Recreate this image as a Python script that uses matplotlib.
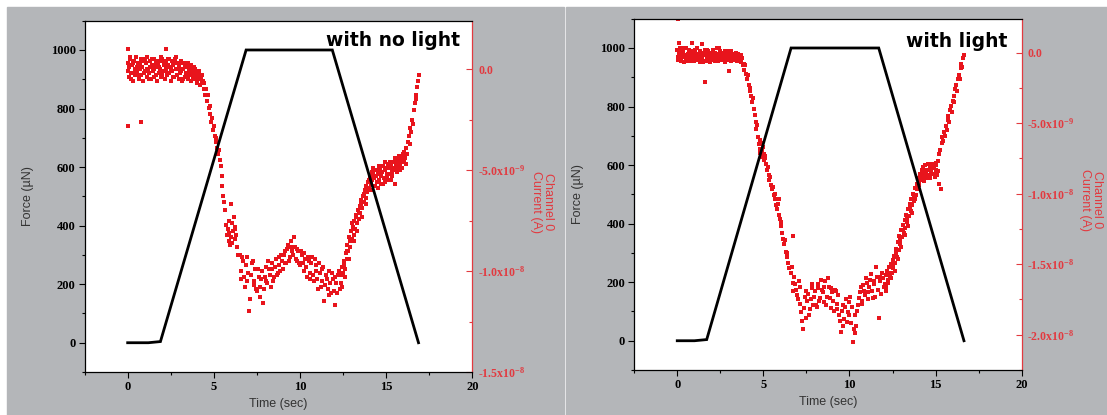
import numpy as np
import matplotlib
matplotlib.use("Agg")
import matplotlib.pyplot as plt
from matplotlib.patches import Rectangle
from matplotlib.ticker import MultipleLocator

plt.rcParams['mathtext.fontset'] = 'custom'
plt.rcParams['mathtext.rm'] = 'Liberation Serif:bold'
plt.rcParams['mathtext.default'] = 'rm'

# force ramp (uN) vs time (s)
dark_force_t = [0.0, 1.2, 1.9, 6.87, 11.87, 16.87]
dark_force = [0, 0, 4, 1000, 1000, 0]
light_force_t = [0.0, 1.0, 1.71, 6.61, 11.7, 16.65]
light_force = [0, 0, 4, 1000, 1000, 0]

# channel 0 current, "with no light" panel (time s, current nA)
dark_t = [
    0.00, 0.05, 0.10, 0.15, 0.20, 0.25, 0.30, 0.35, 0.40, 0.45,
    0.50, 0.55, 0.60, 0.65, 0.70, 0.75, 0.80, 0.85, 0.90, 0.95,
    1.00, 1.05, 1.10, 1.15, 1.20, 1.25, 1.30, 1.35, 1.40, 1.45,
    1.50, 1.55, 1.60, 1.65, 1.70, 1.75, 1.80, 1.85, 1.90, 1.95,
    2.00, 2.05, 2.10, 2.15, 2.20, 2.25, 2.30, 2.35, 2.40, 2.45,
    2.50, 2.55, 2.60, 2.65, 2.70, 2.75, 2.80, 2.85, 2.90, 2.95,
    3.00, 3.05, 3.10, 3.15, 3.20, 3.25, 3.30, 3.35, 3.40, 3.45,
    3.50, 3.55, 3.60, 3.65, 3.70, 3.75, 3.80, 3.85, 3.90, 3.95,
    4.00, 4.05, 4.10, 4.15, 4.20, 4.25, 4.30,
    0.02, 0.12, 0.22, 0.32, 0.42, 0.52, 0.62, 0.72, 0.82, 0.92,
    1.02, 1.12, 1.22, 1.32, 1.42, 1.52, 1.62, 1.72, 1.82, 1.92,
    2.02, 2.12, 2.22, 2.32, 2.42, 2.52, 2.62, 2.72, 2.82, 2.92,
    3.02, 3.12, 3.22, 3.32, 3.42, 3.52, 3.62, 3.72, 3.82, 3.92,
    4.02, 4.12, 4.22, 4.32,
    0.00, 0.03, 0.80, 2.20,
    4.35, 4.40, 4.45, 4.50, 4.55, 4.60, 4.65, 4.70, 4.75, 4.80,
    4.85, 4.90, 4.95, 5.00, 5.05, 5.10, 5.15, 5.20, 5.25, 5.30,
    5.35, 5.40, 5.45, 5.50, 5.55, 5.60, 5.65, 5.70, 5.75, 5.80,
    5.85, 5.90, 5.95, 6.00, 6.00, 6.05, 6.10, 6.15, 6.20, 6.25,
    6.30, 6.35, 6.40, 5.90, 6.05, 6.20,
    6.5, 6.6, 6.7, 6.8, 6.9, 7.0, 7.1, 7.2, 7.3, 7.4,
    7.5, 7.6, 7.7, 7.8, 7.9, 8.0, 8.1, 8.2, 8.3, 8.4,
    8.5, 8.6, 8.7, 8.8, 8.9, 9.0, 9.1, 9.2, 9.3, 9.4,
    9.5, 9.6, 9.7, 9.8, 9.9, 10.0, 10.1, 10.2, 10.3, 10.4,
    10.5, 10.6, 10.7, 10.8, 10.9, 11.0, 11.1, 11.2, 11.3, 11.4,
    11.5, 11.6, 11.7, 11.8, 11.9, 12.0, 12.1, 12.2, 12.3,
    6.55, 6.65, 6.75, 6.85, 6.95, 7.05, 7.15, 7.25, 7.35, 7.45,
    7.55, 7.65, 7.75, 7.85, 7.95, 8.05, 8.15, 8.25, 8.35, 8.45,
    8.55, 8.65, 8.75, 8.85, 8.95, 9.05, 9.15, 9.25, 9.35, 9.45,
    9.55, 9.65, 9.75, 9.85, 9.95, 10.05, 10.15, 10.25, 10.35, 10.45,
    10.55, 10.65, 10.75, 10.85, 10.95, 11.05, 11.15, 11.25, 11.35, 11.45,
    11.55, 11.65, 11.75, 11.85, 11.95, 12.05, 12.15, 12.25,
    12.35, 12.40, 12.45, 12.50, 12.55, 12.60, 12.65, 12.70, 12.75, 12.80,
    12.85, 12.90, 12.95, 13.00, 13.05, 13.10, 13.15, 13.20, 13.25, 13.30,
    13.35, 13.40, 13.45, 13.50, 13.55, 13.60, 13.65, 13.70, 13.75, 13.80,
    13.85, 13.90, 13.95, 14.00, 14.05, 14.10, 14.15, 14.20, 14.25, 14.30,
    14.35, 14.40, 14.45, 14.50, 14.55, 14.60, 14.65, 14.70, 14.75, 14.80,
    14.85, 14.90, 14.95, 15.00, 15.05, 15.10, 15.15, 15.20, 15.25, 15.30,
    15.35, 15.40, 15.45, 15.50, 15.55, 15.60, 15.65, 15.70, 15.75, 15.80,
    15.85, 15.90, 15.95, 16.00, 16.05, 16.10, 16.15, 16.20, 16.25, 16.30,
    16.35, 16.40, 16.45, 16.50, 16.55, 16.60, 16.65, 16.70, 16.75, 16.80,
    16.85, 16.90,
    12.42, 12.52, 12.62, 12.72, 12.82, 12.92, 13.02, 13.12, 13.22, 13.32,
    13.42, 13.52, 13.62, 13.72, 13.82, 13.92, 14.02, 14.12, 14.22, 14.32,
    14.42, 14.52, 14.62, 14.72, 14.82, 14.92, 15.02, 15.12, 15.22, 15.32,
    15.42, 15.52, 15.62, 15.72, 15.82, 15.92, 16.02, 16.12,
]
dark_i = [
    0.3, -0.4, 0.1, 0.5, -0.2, 0.2, -0.6, 0.4, 0.0, -0.3,
    0.6, -0.1, 0.3, -0.5, 0.2, 0.5, -0.3, 0.1, -0.6, 0.4,
    -0.1, 0.3, -0.4, 0.6, 0.0, -0.2, 0.4, -0.5, 0.2, -0.1,
    0.5, -0.4, 0.1, 0.3, -0.6, 0.2, -0.2, 0.4, 0.0, -0.4,
    0.5, -0.1, 0.2, -0.5, 0.3, 0.0, -0.3, 0.5, -0.2, 0.1,
    -0.6, 0.4, -0.1, 0.2, -0.4, 0.5, 0.0, -0.3, 0.3, -0.5,
    0.1, -0.2, 0.4, -0.6, 0.0, 0.3, -0.4, 0.1, -0.2, 0.2,
    -0.5, 0.0, -0.3, 0.2, -0.6, -0.1, -0.4, 0.1, -0.5, -0.2,
    -0.7, -0.3, -0.5, -0.1, -0.8, -0.4, -0.7,
    -0.1, 0.6, -0.5, 0.3, -0.2, 0.1, -0.3, 0.0, 0.4, -0.2,
    0.5, 0.0, -0.5, 0.1, 0.5, 0.0, -0.3, 0.4, 0.1, 0.6,
    -0.3, 0.4, -0.1, 0.2, 0.5, 0.0, -0.4, 0.3, 0.6, 0.0,
    0.3, -0.1, -0.5, 0.2, -0.3, 0.3, -0.1, 0.1, -0.2, 0.0,
    -0.4, -0.2, -0.5, -0.3,
    1.0, -2.8, -2.6, 1.0,
    -0.6, -1.0, -0.7, -1.3, -1.0, -1.6, -1.3, -1.9, -2.2, -1.8,
    -2.6, -2.4, -3.0, -2.8, -3.3, -3.6, -3.4, -3.9, -4.2, -4.0,
    -4.5, -4.8, -5.3, -5.8, -6.3, -6.6, -7.0, -7.7, -8.2, -7.9,
    -8.5, -8.1, -8.7, -6.7, -8.3, -7.6, -8.0, -7.3, -8.4, -7.8,
    -8.2, -8.8, -9.2, -7.5, -8.6, -7.9,
    -9.2, -10.4, -9.5, -10.8, -9.3, -10.1, -11.4, -9.6, -10.7, -9.9,
    -11.0, -10.3, -11.3, -10.0, -10.9, -9.8, -10.6, -9.9, -10.8, -9.6,
    -10.3, -9.4, -10.1, -9.7, -9.2, -9.9, -9.0, -9.6, -8.7, -9.3,
    -8.5, -9.2, -8.8, -9.5, -9.0, -9.7, -9.2, -10.0, -9.4, -10.3,
    -9.5, -10.1, -9.3, -10.5, -9.7, -10.4, -9.6, -10.8, -9.9, -11.5,
    -10.2, -10.9, -10.0, -11.1, -10.4, -11.7, -10.6, -10.2, -10.9,
    -10.0, -9.3, -10.3, -9.7, -10.5, -12.0, -10.2, -9.5, -10.5, -10.9,
    -9.9, -10.8, -10.4, -11.6, -10.3, -10.5, -9.5, -10.2, -9.9, -10.5,
    -9.8, -10.2, -9.3, -10.0, -9.5, -9.2, -9.6, -8.9, -9.5, -8.8,
    -9.0, -8.3, -9.4, -8.9, -9.6, -9.0, -9.6, -9.1, -9.8, -9.3,
    -10.4, -9.6, -10.2, -9.4, -10.0, -10.9, -10.1, -10.5, -9.8, -10.7,
    -10.4, -11.2, -10.6, -10.1, -11.0, -10.3, -11.1, -10.0,
    -10.2, -10.6, -9.8, -10.1, -9.5, -9.9, -9.1, -9.4, -8.7, -9.0,
    -8.3, -8.8, -8.0, -8.4, -7.8, -8.2, -7.5, -7.9, -7.2, -7.6,
    -7.0, -7.4, -6.8, -7.1, -6.5, -6.9, -6.3, -6.6, -6.0, -6.4,
    -5.8, -6.1, -5.6, -5.9, -5.3, -5.7, -5.1, -5.5, -4.9, -5.4,
    -5.8, -5.0, -5.6, -5.2, -4.8, -5.5, -5.0, -5.7, -5.1, -4.8,
    -5.4, -5.0, -5.6, -4.9, -5.3, -4.7, -5.2, -4.9, -5.5, -4.8,
    -5.1, -4.6, -5.0, -5.7, -4.7, -5.1, -4.5, -4.9, -4.3, -4.7,
    -4.4, -4.9, -4.2, -4.6, -4.1, -4.4, -3.9, -4.2, -3.6, -3.3,
    -3.7, -2.9, -3.1, -2.5, -2.7, -2.0, -1.7, -1.3, -1.5, -0.9,
    -0.6, -0.3,
    -10.8, -9.7, -10.3, -9.0, -9.4, -8.5, -7.6, -8.5, -7.3, -8.0,
    -7.1, -6.7, -7.3, -6.2, -6.7, -5.9, -5.5, -6.0, -5.2, -5.0,
    -5.3, -5.9, -4.9, -5.3, -5.7, -4.6, -5.2, -5.5, -4.6, -5.3,
    -4.9, -4.4, -4.9, -4.6, -5.0, -4.5, -4.3, -4.7,
]

# channel 0 current, "with light" panel (time s, current nA)
light_t = [
    0.00, 0.05, 0.10, 0.15, 0.20, 0.25, 0.30, 0.35, 0.40, 0.45,
    0.50, 0.55, 0.60, 0.65, 0.70, 0.75, 0.80, 0.85, 0.90, 0.95,
    1.00, 1.05, 1.10, 1.15, 1.20, 1.25, 1.30, 1.35, 1.40, 1.45,
    1.50, 1.55, 1.60, 1.65, 1.70, 1.75, 1.80, 1.85, 1.90, 1.95,
    2.00, 2.05, 2.10, 2.15, 2.20, 2.25, 2.30, 2.35, 2.40, 2.45,
    2.50, 2.55, 2.60, 2.65, 2.70, 2.75, 2.80, 2.85, 2.90, 2.95,
    3.00, 3.05, 3.10, 3.15, 3.20, 3.25, 3.30, 3.35, 3.40, 3.45,
    3.50, 3.55, 3.60, 3.65, 3.70, 3.75, 3.80,
    0.02, 0.12, 0.22, 0.32, 0.42, 0.52, 0.62, 0.72, 0.82, 0.92,
    1.02, 1.12, 1.22, 1.32, 1.42, 1.52, 1.62, 1.72, 1.82, 1.92,
    2.02, 2.12, 2.22, 2.32, 2.42, 2.52, 2.62, 2.72, 2.82, 2.92,
    3.02, 3.12, 3.22, 3.32, 3.42, 3.52, 3.62, 3.72,
    0.02, 1.60, 3.00, 0.10, 0.85, 1.45,
    3.85, 3.90, 3.95, 4.00, 4.05, 4.10, 4.15, 4.20, 4.25, 4.30,
    4.35, 4.40, 4.45, 4.50, 4.55, 4.60, 4.65, 4.70, 4.75, 4.80,
    4.85, 4.90, 4.95, 5.00, 5.05, 5.10, 5.15, 5.20, 5.25, 5.30,
    5.35, 5.40, 5.45, 5.50, 5.55, 5.60, 5.65, 5.70, 5.75, 5.80,
    5.85, 5.90, 5.95, 6.00, 6.05, 6.10, 6.15, 6.20, 6.25, 6.30,
    6.35, 6.40, 6.45, 6.50,
    4.78, 4.82, 4.88, 4.92, 5.02, 5.08, 6.70, 5.90,
    6.6, 6.7, 6.8, 6.9, 7.0, 7.1, 7.2, 7.3, 7.4, 7.5,
    7.6, 7.7, 7.8, 7.9, 8.0, 8.1, 8.2, 8.3, 8.4, 8.5,
    8.6, 8.7, 8.8, 8.9, 9.0, 9.1, 9.2, 9.3, 9.4, 9.5,
    9.6, 9.7, 9.8, 9.9, 10.0, 10.1, 10.2, 10.3, 10.4, 10.5,
    10.6, 10.7, 10.8, 10.9, 11.0, 11.1, 11.2, 11.3, 11.4, 11.5,
    11.6, 11.7, 11.8, 11.9, 12.0,
    6.65, 6.75, 6.85, 6.95, 7.05, 7.15, 7.25, 7.35, 7.45, 7.55,
    7.65, 7.75, 7.85, 7.95, 8.05, 8.15, 8.25, 8.35, 8.45, 8.55,
    8.65, 8.75, 8.85, 8.95, 9.05, 9.15, 9.25, 9.35, 9.45, 9.55,
    9.65, 9.75, 9.85, 9.95, 10.05, 10.15, 10.25, 10.35, 10.45, 10.55,
    10.65, 10.75, 10.85, 10.95, 11.05, 11.15, 11.25, 11.35, 11.45, 11.55,
    11.65, 11.75, 11.85, 11.95,
    12.05, 12.10, 12.15, 12.20, 12.25, 12.30, 12.35, 12.40, 12.45, 12.50,
    12.55, 12.60, 12.65, 12.70, 12.75, 12.80, 12.85, 12.90, 12.95, 13.00,
    13.05, 13.10, 13.15, 13.20, 13.25, 13.30, 13.35, 13.40, 13.45, 13.50,
    13.55, 13.60, 13.65, 13.70, 13.75, 13.80, 13.85, 13.90, 13.95, 14.00,
    14.05, 14.10, 14.15, 14.20, 14.25, 14.30, 14.35, 14.40, 14.45, 14.50,
    14.55, 14.60, 14.65, 14.70, 14.75, 14.80, 14.85, 14.90, 14.95, 15.00,
    15.05, 15.10, 15.15, 15.20, 15.25, 15.30, 15.35, 15.40, 15.45, 15.50,
    15.55, 15.60, 15.65, 15.70, 15.75, 15.80, 15.85, 15.90, 15.95, 16.00,
    16.05, 16.10, 16.15, 16.20, 16.25, 16.30, 16.35, 16.40, 16.45, 16.50,
    16.55, 16.60, 16.65,
    12.12, 12.22, 12.32, 12.42, 12.52, 12.62, 12.72, 12.82, 12.92, 13.02,
    13.12, 13.22, 13.32, 13.42, 13.52, 13.62, 13.72, 13.82, 13.92, 14.02,
    14.12, 14.22, 14.32, 14.42, 14.52, 14.62, 14.72, 14.82, 14.92, 15.02,
    15.12, 15.22,
]
light_i = [
    0.2, -0.5, -0.1, 0.3, -0.6, 0.0, -0.3, 0.1, -0.7, -0.2,
    0.3, -0.4, -0.1, -0.6, 0.2, -0.3, 0.0, -0.5, 0.1, -0.2,
    -0.6, 0.0, -0.3, 0.3, -0.4, -0.1, -0.7, 0.1, -0.3, -0.5,
    0.0, -0.2, 0.2, -0.6, -0.1, -0.4, 0.1, -0.3, -0.7, 0.0,
    -0.4, 0.2, -0.2, -0.5, 0.0, -0.3, 0.3, -0.6, -0.1, -0.4,
    0.1, -0.2, -0.5, 0.0, -0.3, -0.7, 0.1, -0.4, -0.1, -0.5,
    0.0, -0.3, -0.6, 0.1, -0.2, -0.5, -0.1, -0.4, 0.0, -0.6,
    -0.3, -0.1, -0.5, -0.2, -0.7, -0.4, -0.9,
    -0.3, 0.1, -0.5, -0.2, 0.3, -0.4, -0.1, -0.6, 0.0, -0.3,
    0.2, -0.5, -0.2, 0.1, -0.4, -0.7, -0.1, 0.2, -0.3, -0.5,
    0.0, -0.2, -0.6, -0.1, 0.3, -0.4, -0.2, 0.0, -0.5, -0.3,
    0.1, -0.6, -0.2, -0.4, 0.0, -0.3, -0.6, -0.2,
    2.35, -2.1, -1.3, 0.7, 0.7, 0.6,
    -0.8, -1.2, -0.9, -1.5, -1.9, -1.6, -2.3, -2.7, -2.5, -3.1,
    -3.5, -3.2, -4.0, -4.4, -4.9, -5.4, -5.1, -6.0, -6.5, -6.2,
    -6.8, -6.4, -7.0, -6.7, -7.2, -7.5, -7.9, -8.3, -8.1, -8.7,
    -9.0, -8.8, -9.4, -9.7, -9.5, -10.1, -10.4, -10.0, -10.8, -11.1,
    -10.7, -11.5, -11.8, -12.3, -12.0, -12.8, -13.2, -13.6, -13.3, -14.1,
    -14.5, -14.2, -14.9, -15.3,
    -6.8, -7.1, -7.4, -6.9, -7.6, -7.3, -13.0, -10.4,
    -15.6, -16.3, -15.9, -16.8, -17.5, -16.6, -18.4, -19.6, -17.3, -18.8,
    -17.1, -18.2, -16.7, -17.9, -16.9, -18.0, -16.4, -17.4, -16.8, -17.7,
    -16.2, -17.3, -16.6, -18.1, -17.0, -18.3, -16.9, -17.8, -18.6, -19.8,
    -17.9, -18.9, -17.5, -18.4, -17.7, -19.2, -20.5, -18.6, -19.4, -17.9,
    -17.0, -17.6, -16.5, -17.2, -16.3, -17.0, -16.1, -16.9, -16.4, -17.3,
    -15.9, -18.8, -16.2, -15.6, -16.6,
    -15.2, -16.9, -16.4, -17.2, -16.2, -17.8, -19.0, -18.1, -16.9, -17.6,
    -18.6, -17.5, -16.4, -17.3, -17.9, -16.7, -17.6, -16.1, -17.0, -16.6,
    -17.9, -16.0, -17.4, -16.7, -17.6, -16.8, -18.2, -17.2, -19.0, -18.3,
    -19.4, -18.0, -19.1, -18.6, -17.3, -18.0, -19.6, -19.9, -18.3, -17.4,
    -16.6, -17.8, -16.9, -16.0, -17.5, -16.6, -15.7, -17.4, -16.2, -15.2,
    -16.8, -15.9, -17.1, -16.0,
    -16.4, -15.8, -16.6, -15.5, -16.1, -15.2, -15.9, -15.0, -15.6, -14.7,
    -15.3, -14.4, -14.9, -13.9, -14.5, -13.4, -14.0, -13.0, -13.6, -12.6,
    -13.1, -12.2, -12.8, -11.9, -12.4, -11.5, -12.0, -11.1, -11.6, -10.7,
    -11.2, -10.4, -10.8, -10.0, -10.5, -9.6, -10.1, -9.3, -9.7, -8.9,
    -9.4, -8.6, -9.0, -8.3, -8.8, -8.1, -8.6, -8.0, -8.9, -8.3,
    -7.9, -8.7, -8.2, -8.9, -8.4, -7.9, -8.6, -8.1, -8.8, -8.3,
    -8.0, -8.7, -7.7, -7.2, -6.9, -9.7, -6.4, -6.0, -6.3, -5.6,
    -5.9, -5.2, -5.5, -4.8, -4.5, -4.9, -4.1, -3.8, -4.2, -3.4,
    -3.1, -3.5, -2.6, -2.3, -2.7, -1.9, -1.6, -1.9, -1.1, -0.8,
    -1.0, -0.4, -0.2,
    -16.9, -16.3, -15.6, -16.0, -15.1, -15.5, -14.2, -14.6, -13.3, -13.8,
    -12.6, -12.9, -11.8, -12.3, -11.0, -11.4, -10.2, -10.4, -9.6, -9.2,
    -8.9, -8.5, -9.1, -8.4, -8.7, -7.9, -8.5, -8.2, -8.6, -7.8,
    -8.4, -9.3,
]

dark_cur_ticks = [0.0, -5e-9, -1e-8, -1.5e-8]
dark_cur_labels = ["0.0", "-5.0x10$^{-9}$", "-1.0x10$^{-8}$", "-1.5x10$^{-8}$"]
light_cur_ticks = [0.0, -5e-9, -1e-8, -1.5e-8, -2e-8]
light_cur_labels = ["0.0", "-5.0x10$^{-9}$", "-1.0x10$^{-8}$", "-1.5x10$^{-8}$", "-2.0x10$^{-8}$"]

GRAY = "#b4b6b9"
RED = "#e23a40"
DOT = "#e8141c"
TICKFONT = "Liberation Serif"
LABFONT = "Liberation Sans"

fig = plt.figure(figsize=(11.07, 4.15), dpi=100, facecolor="white")
fig.patches.append(Rectangle((7 / 1107, 0), (564 - 7) / 1107, 408 / 415,
                             transform=fig.transFigure, color=GRAY, zorder=-5))
fig.patches.append(Rectangle((566 / 1107, 0), (1107 - 566) / 1107, 408 / 415,
                             transform=fig.transFigure, color=GRAY, zorder=-5))


def panel(rect, ft, fy, ct, ci, cticks, clabels, clim, title, title_x, title_y):
    ax = fig.add_axes(rect)
    ax2 = ax.twinx()
    # black force line above the red points
    ax.set_zorder(2)
    ax2.set_zorder(1)
    ax.patch.set_visible(False)
    ax2.patch.set_facecolor("white")
    ax2.patch.set_visible(True)

    ax2.plot(ct, np.array(ci) * 1e-9, "s", ms=2.4, mew=0, color=DOT)
    ax.plot(ft, fy, color="black", lw=2.0, solid_joinstyle="miter")

    ax.set_xlim(-2.5, 20)
    ax.set_ylim(-100, 1100)
    ax2.set_ylim(*clim)

    ax.set_xticks([0, 5, 10, 15, 20])
    ax.xaxis.set_minor_locator(MultipleLocator(2.5))
    ax.set_yticks([0, 200, 400, 600, 800, 1000])
    ax.yaxis.set_minor_locator(MultipleLocator(100))
    ax.tick_params(axis="both", which="major", direction="out", length=4,
                   width=0.8, pad=2.5, labelsize=9)
    ax.tick_params(axis="both", which="minor", direction="out", length=2, width=0.8)
    for lab in ax.get_xticklabels() + ax.get_yticklabels():
        lab.set_fontfamily(TICKFONT)
        lab.set_fontweight("bold")

    ax2.set_yticks(cticks)
    ax2.set_yticklabels(clabels)
    ax2.yaxis.set_minor_locator(MultipleLocator(2.5e-9))
    ax2.tick_params(axis="y", which="major", direction="in", length=4, width=0.8,
                    colors=RED, pad=4, labelsize=8.5)
    ax2.tick_params(axis="y", which="minor", direction="in", length=2, width=0.8,
                    colors=RED)
    for lab in ax2.get_yticklabels():
        lab.set_fontfamily(TICKFONT)
        lab.set_fontweight("bold")
        lab.set_color(RED)

    for s in ["left", "bottom", "top"]:
        ax.spines[s].set_color("black")
        ax.spines[s].set_linewidth(0.9)
        ax2.spines[s].set_visible(False)
    ax.spines["right"].set_visible(False)
    ax2.spines["right"].set_color(RED)
    ax2.spines["right"].set_linewidth(0.9)

    ax.set_xlabel("Time (sec)", fontfamily=LABFONT, fontsize=9, color="#333333")
    ax.xaxis.set_label_coords(0.5, -0.075)
    ax.set_ylabel("Force (\u00b5N)", fontfamily=LABFONT, fontsize=9, color="#333333")
    ax.yaxis.set_label_coords(-0.13, 0.5)
    ax2.set_ylabel("Channel 0\nCurrent (A)", fontfamily=LABFONT, fontsize=9,
                   color=RED, rotation=270, linespacing=1.0, va="center")
    ax2.yaxis.set_label_coords(1.18, 0.485)

    ax.text(title_x, title_y, title, ha="right", va="baseline", fontsize=13.5,
            fontweight="bold", fontfamily="DejaVu Sans", color="black")
    return ax, ax2


panel([0.0764, 0.1036, 0.3504, 0.8465], dark_force_t, dark_force, dark_t, dark_i,
      dark_cur_ticks, dark_cur_labels, (-1.5e-8, 2.4e-9), "with no light", 19.3, 1014)
panel([0.5729, 0.1084, 0.3500, 0.8465], light_force_t, light_force, light_t, light_i,
      light_cur_ticks, light_cur_labels, (-2.25e-8, 2.4e-9), "with light", 19.2, 1005)

fig.savefig("out.png", dpi=100, facecolor="white")
